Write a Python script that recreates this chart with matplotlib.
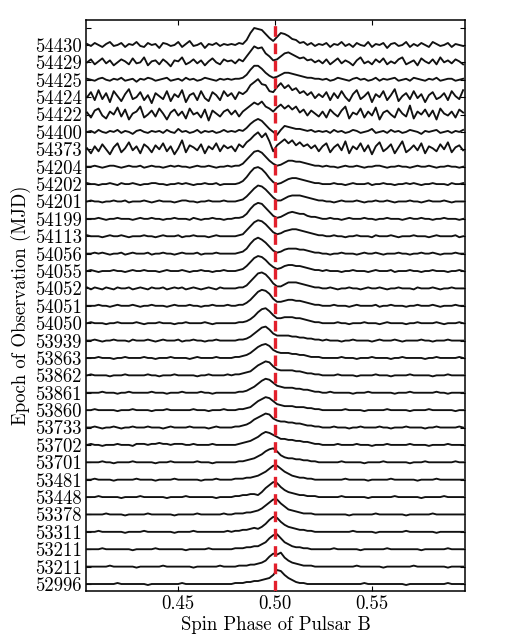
import numpy as np
import matplotlib
matplotlib.use("Agg")
import matplotlib.pyplot as plt

plt.rcParams['font.family'] = ['cmr10', 'DejaVu Serif']
plt.rcParams['mathtext.fontset'] = 'cm'
plt.rcParams['axes.unicode_minus'] = False
plt.rcParams['axes.formatter.use_mathtext'] = True

# Epoch labels, top to bottom
epochs = ["54430", "54429", "54425", "54424", "54422", "54400", "54373",
          "54204", "54202", "54201", "54199", "54113", "54056", "54055",
          "54052", "54051", "54050", "53939", "53863", "53862", "53861",
          "53860", "53733", "53702", "53701", "53481", "53448", "53378",
          "53311", "53211", "53211", "52996"]

# phase bins: first bin index out of 512 bins per rotation
first_bin = 206
bins_per_turn = 512

# Profiles (flux, arbitrary units), one per epoch, 100 phase bins each
p_54430 = [1,-1,2,0,-2,1,3,-1,0,2,-2,1,0,3,-1,-2,2,0,1,-3,2,1,-1,0,3,-2,1,4,-1,0,2,-3,1,0,2,-1,1,0,
           1,0,2,1,5,12,17,16,15,11,7,4,8,12,11,9,6,5,2,3,0,2,-1,1,0,
           2,-2,1,0,3,-1,1,-2,2,0,-1,3,-2,1,0,2,-3,1,2,-1,0,3,-2,1,-1,2,0,-2,3,1,-1,0,2,-2,1,0,-1]
p_54429 = [0,3,-2,1,4,-1,2,-3,0,3,1,-2,4,-1,0,5,-3,1,2,-2,3,0,-4,2,1,5,-2,0,3,-1,2,-3,1,4,0,-2,3,1,
           2,-1,3,1,6,11,16,14,15,9,6,2,3,6,9,10,8,6,4,5,2,3,0,2,-1,
           3,-2,1,4,-1,2,0,-3,2,5,-1,1,-2,3,0,4,-2,1,-1,3,5,-2,0,2,-3,4,1,-1,3,-2,5,0,2,-1,3,1,-2]
p_54425 = [1,0,-1,1,2,0,-1,1,0,2,-1,0,1,-2,1,0,2,1,-1,0,1,2,-1,0,1,-1,2,0,1,-1,0,2,1,0,-1,1,0,1,
           0,1,1,2,5,10,14,14,11,7,4,2,3,5,7,7,6,5,4,3,2,2,1,1,0,
           1,-1,0,2,1,0,-1,1,2,0,1,-1,0,2,-1,1,0,1,2,-1,0,1,-1,2,1,0,-1,1,0,2,-1,0,1,1,-1,0,1]
p_54424 = [0,5,-3,7,-2,4,-5,6,1,-4,3,8,-2,0,5,-3,2,-6,4,1,-2,6,-4,3,0,7,-5,2,4,-3,6,-1,-4,5,2,-3,6,1,
           4,-2,5,3,6,12,15,18,13,12,6,5,10,14,9,12,7,9,4,6,2,5,-1,3,0,
           5,-3,4,-1,6,0,-4,3,7,-2,1,5,-5,3,0,6,-3,2,8,-4,1,4,-2,6,-1,3,-5,2,5,-2,0,4,-3,6,1,-2,7]
p_54422 = [2,-3,4,6,-1,-4,3,0,7,-2,5,-5,1,3,8,-3,0,4,-2,6,1,-5,2,5,-1,3,-4,6,0,2,-3,5,-6,4,1,-2,3,5,
           0,4,-2,3,6,9,12,10,13,8,6,3,7,10,6,9,5,8,2,5,-1,4,1,-2,3,
           -3,5,1,-2,4,8,-4,2,0,6,-3,3,-1,7,-5,2,4,0,-3,6,1,-2,9,-4,3,0,5,-2,4,-5,6,1,-1,3,-3,5,2]
p_54400 = [0,1,-1,2,0,-1,1,0,2,-1,1,0,-2,1,2,0,-1,1,0,1,-1,2,0,-1,3,0,1,-1,0,2,-1,1,0,1,-1,0,2,0,
           1,0,2,1,4,8,11,13,11,7,3,0,-3,2,6,5,4,3,3,2,1,2,0,1,0,
           1,-1,2,0,1,-1,0,2,1,-1,0,1,3,-1,0,1,-1,2,0,1,-1,0,2,1,0,-2,1,0,1,2,-1,0,1,-1,1,0,2]
p_54373 = [1,-4,3,-2,5,0,-5,2,6,-3,1,7,-1,3,-4,5,2,-3,4,0,6,-2,3,-5,1,9,-3,4,2,-1,5,-4,3,0,6,-2,4,1,
           3,-2,5,2,7,10,14,17,12,16,8,-2,4,7,10,6,9,4,7,3,5,1,4,-2,3,
           6,-3,2,5,-1,8,-4,3,0,6,-2,4,-5,3,7,-2,1,5,-4,2,8,-3,0,4,-1,6,-4,3,1,-2,5,0,7,-3,2,4,-1]
p_54204 = [0,0,1,0,-1,0,1,1,0,-1,0,1,0,0,1,-1,0,1,0,0,-1,0,1,0,1,0,0,-1,0,1,0,0,1,0,-1,0,0,1,
           0,1,1,3,7,11,15,16,14,10,6,3,1,2,4,6,6,5,5,4,3,2,1,1,0,
           1,0,0,-1,0,1,0,0,1,0,-1,0,0,1,1,0,-1,0,0,1,0,0,-1,0,1,0,0,1,0,-1,0,0,1,0,0,-1,0]
p_54202 = [1,0,0,-1,0,0,1,0,-1,1,0,0,1,0,-1,0,0,1,1,0,0,-1,0,0,1,0,1,0,-1,0,0,1,0,0,1,-1,0,0,
           0,0,1,3,7,12,16,17,15,11,6,2,0,1,3,5,6,6,5,4,3,2,1,1,0,
           0,0,1,0,0,-1,0,1,0,0,0,1,-1,0,0,1,0,0,-1,0,0,1,0,1,0,-1,0,0,1,0,0,0,-1,1,0,0,1]
p_54201 = [0,1,0,0,-1,0,0,1,0,0,1,-1,0,0,0,1,0,-1,0,1,0,0,0,-1,0,1,1,0,0,-1,0,0,1,0,0,0,1,0,
           0,0,1,2,5,9,13,16,15,12,8,4,1,1,3,5,6,6,6,5,4,3,2,1,1,
           0,0,-1,0,1,0,0,0,1,0,-1,0,0,1,0,0,1,0,-1,0,0,0,1,0,0,-1,0,1,0,0,0,1,0,-1,0,0,0]
p_54199 = [0,0,0,1,0,-1,0,0,1,0,0,0,-1,0,1,0,0,1,0,0,-1,0,0,1,0,0,0,-1,1,0,-1,0,0,1,0,0,-1,0,
           0,1,1,2,5,10,14,16,15,11,7,3,1,2,4,6,7,6,5,5,3,2,2,1,0,
           0,1,0,0,-1,0,1,0,0,0,1,0,0,-1,0,0,1,0,0,0,-1,0,1,0,0,1,0,0,-1,0,0,1,0,0,0,-1,0]
p_54113 = [1,0,0,0,-1,0,1,0,0,1,0,-1,0,0,0,1,0,0,-1,0,1,0,0,0,1,-1,0,0,1,0,0,0,-1,0,1,0,0,0,
           0,0,1,2,6,10,14,16,15,12,8,4,2,3,5,6,7,7,6,5,4,3,2,1,1,
           0,0,1,0,0,-1,0,0,1,0,0,0,-1,1,0,0,0,1,0,-1,0,0,0,1,0,0,0,-1,0,1,0,0,0,0,1,-1,0]
p_54056 = [0,0,1,0,1,0,-1,0,0,1,-1,0,1,0,0,0,1,-1,0,0,1,0,0,-1,0,1,0,0,0,1,-1,0,0,0,1,0,0,0,
           0,0,1,2,5,10,14,16,14,11,7,3,1,2,4,5,5,5,4,4,3,2,1,1,0,
           0,-1,0,0,1,0,0,0,-1,0,1,0,0,1,0,-1,0,0,0,1,0,0,-1,0,0,1,0,0,1,0,-1,0,0,0,1,0,0]
p_54055 = [0,1,0,-1,0,0,0,1,0,0,-1,0,1,0,0,1,0,0,0,-1,0,1,0,0,0,1,0,-1,0,0,1,0,0,-1,0,0,1,0,
           0,0,1,2,5,9,13,15,14,11,7,4,2,3,5,6,6,5,5,4,3,2,1,1,0,
           1,0,0,0,-1,0,0,1,0,0,0,-1,0,1,0,0,0,1,-1,0,0,0,1,0,0,-1,0,0,1,0,0,0,-1,0,0,1,0]
p_54052 = [1,-1,1,0,-1,1,0,-1,1,0,0,1,-1,0,1,0,-1,1,0,0,1,-1,0,1,0,1,-1,0,1,0,-1,0,1,0,-1,1,0,0,
           0,0,1,1,3,7,11,15,16,14,10,5,2,2,4,6,6,6,5,4,3,2,1,1,0,
           0,1,0,-1,0,0,1,0,0,-1,0,1,0,0,1,0,-1,0,0,1,0,0,0,-1,1,0,0,0,1,0,-1,0,0,1,0,0,0]
p_54051 = [0,0,0,1,0,0,-1,0,1,0,0,0,1,0,-1,0,0,1,0,0,0,-1,0,1,0,0,0,1,0,0,-1,0,0,1,0,0,0,1,
           0,0,1,1,3,6,10,14,16,15,12,7,4,4,5,6,6,5,5,4,3,2,1,1,0,
           0,0,1,0,0,0,-1,0,1,0,0,0,0,1,-1,0,0,1,0,0,0,-1,0,0,1,0,0,0,1,0,-1,0,0,0,1,0,0]
p_54050 = [0,1,0,0,0,-1,0,0,1,0,0,0,0,1,0,-1,0,0,0,1,0,0,0,-1,0,0,1,0,0,0,0,1,0,-1,0,0,0,0,
           0,0,1,1,2,4,7,11,14,15,12,8,5,5,6,6,6,5,5,4,3,2,1,1,0,
           0,0,0,1,0,0,-1,0,0,0,1,0,0,0,-1,0,1,0,0,0,0,-1,0,0,1,0,0,0,0,1,0,-1,0,0,0,1,0]
p_53939 = [0,0,1,0,-1,0,0,1,0,0,0,-1,1,0,0,0,1,0,-1,0,1,0,0,0,1,-1,0,0,1,0,0,-1,0,0,1,0,0,0,
           0,0,1,1,2,4,7,10,13,14,11,7,5,5,5,5,4,4,3,3,2,2,1,1,0,
           1,0,0,0,-1,0,0,1,0,0,0,0,-1,0,1,0,0,0,1,0,-1,0,0,0,0,1,0,0,-1,0,0,0,1,0,0,0,0]
p_53863 = [0,0,0,1,0,0,0,-1,0,0,1,0,0,0,0,1,0,0,-1,0,0,0,1,0,0,0,0,-1,0,1,0,0,0,0,1,0,0,0,
           0,1,1,2,3,5,8,11,13,14,12,8,6,5,5,5,4,4,3,3,2,1,1,1,0,
           0,0,0,0,1,0,0,0,-1,0,0,0,1,0,0,0,0,-1,0,0,1,0,0,0,0,0,-1,0,0,1,0,0,0,0,0,1,0]
p_53862 = [0,1,0,0,0,0,-1,0,0,0,1,0,0,0,0,0,1,0,0,-1,0,0,0,1,0,0,0,0,0,-1,0,0,1,0,0,0,0,1,
           0,1,1,2,3,4,7,10,12,14,13,9,6,5,5,5,5,4,4,3,2,2,1,1,0,
           0,0,0,1,0,0,0,0,-1,0,0,0,0,1,0,0,0,-1,0,0,0,0,1,0,0,0,0,0,-1,0,0,0,1,0,0,0,0]
p_53861 = [0,0,0,0,1,0,0,0,-1,0,0,1,0,0,0,0,0,1,0,0,0,-1,0,0,0,1,0,0,0,0,1,0,0,-1,0,0,0,0,
           0,0,1,1,2,4,6,9,12,14,13,10,7,6,5,5,5,4,4,3,3,2,1,1,0,
           0,1,0,0,0,0,0,-1,0,0,0,1,0,0,0,0,0,0,-1,0,0,0,1,0,0,0,0,0,0,1,0,0,-1,0,0,0,0]
p_53860 = [0,0,1,0,0,0,0,0,-1,0,0,0,1,0,0,0,0,-1,0,0,0,1,0,0,0,0,0,0,1,0,0,0,-1,0,0,0,1,0,
           0,0,1,1,2,3,6,9,11,13,12,9,6,5,4,4,4,3,3,3,2,2,1,1,0,
           0,0,0,0,0,1,0,0,0,0,-1,0,0,0,0,0,1,0,0,0,0,0,-1,0,0,0,0,1,0,0,0,0,0,0,-1,0,0]
p_53733 = [0,0,1,0,-1,0,0,1,0,-1,0,0,1,0,0,0,1,0,0,0,-1,0,1,0,0,0,0,1,0,0,0,0,-1,0,1,0,0,0,
           0,1,1,2,3,5,8,10,12,14,13,9,7,6,6,5,5,4,4,3,2,2,1,1,0,
           0,0,1,0,0,0,-1,0,0,1,0,0,0,0,1,0,0,-1,0,0,0,1,0,0,0,0,-1,0,0,1,0,0,0,0,0,1,0]
p_53702 = [0,1,0,0,-1,0,0,0,1,0,0,0,-1,1,1,1,0,1,1,2,1,1,0,1,1,1,0,0,1,0,0,0,0,1,0,0,0,0,
           0,0,1,2,3,4,6,8,11,13,12,10,8,6,6,5,5,4,4,3,3,2,1,1,0,
           0,0,0,1,0,0,0,0,1,0,0,0,-1,0,0,0,1,0,0,0,0,0,1,0,0,0,0,-1,0,0,0,0,1,0,0,0,0]
p_53701 = [0,0,0,0,1,0,0,-1,0,0,0,0,1,0,0,0,0,0,-1,0,0,0,1,0,0,0,0,0,0,1,0,0,0,-1,0,0,0,0,
           0,0,1,1,2,3,4,6,8,11,13,14,11,7,5,4,4,3,3,2,2,1,1,0,0,
           0,0,0,0,1,0,0,0,0,0,-1,0,0,0,0,1,0,0,0,0,0,0,-1,0,0,0,1,0,0,0,0,0,0,0,1,0,0]
p_53481 = [0,0,1,0,0,0,0,-1,0,0,0,0,0,1,0,0,0,0,-1,0,0,0,0,1,0,0,0,0,0,0,-1,0,0,0,1,0,0,0,
           0,1,1,1,2,2,3,4,6,8,11,14,14,11,8,6,4,3,2,2,1,1,0,0,0,
           0,0,0,0,0,1,0,0,0,0,0,-1,0,0,0,0,0,1,0,0,0,0,0,0,-1,0,0,0,0,1,0,0,0,0,0,0,0]
p_53448 = [0,0,0,1,0,0,0,0,0,-1,0,0,0,0,1,0,0,0,0,0,0,-1,0,0,0,0,1,0,0,0,0,0,0,0,-1,0,0,0,
           0,1,1,2,2,3,3,2,5,9,12,15,14,10,7,5,4,3,2,2,1,1,1,0,0,
           0,0,0,0,1,0,0,0,0,0,0,-1,0,0,0,0,0,0,1,0,0,0,0,0,0,-1,0,0,0,0,0,1,0,0,0,0,0]
p_53378 = [0,0,0,0,0,1,0,0,0,0,-1,0,0,0,0,0,1,0,0,0,0,0,0,-1,0,0,0,0,0,1,0,0,0,0,0,0,1,0,
           0,1,1,1,2,2,3,4,6,9,12,15,15,11,8,5,4,3,2,1,1,1,0,0,0,
           0,0,0,0,0,0,-1,0,0,0,0,0,0,1,0,0,0,0,0,0,0,-1,0,0,0,0,0,0,1,0,0,0,0,0,0,0,0]
p_53311 = [0,0,0,1,0,0,0,0,0,0,-1,0,0,0,0,1,0,0,0,0,0,0,0,-1,0,0,0,0,1,0,0,0,0,0,0,0,0,1,
           0,1,1,2,2,3,4,3,5,8,12,15,14,10,7,5,4,3,2,2,1,1,0,0,0,
           0,0,0,0,0,0,0,1,0,0,0,0,0,-1,0,0,0,0,0,0,0,1,0,0,0,0,0,0,0,-1,0,0,0,0,0,0,0]
p_53211a = [0,0,0,0,1,0,0,0,0,0,0,0,-1,0,0,0,0,0,1,0,0,0,0,0,0,0,-1,0,0,0,0,0,1,0,0,0,0,0,
            0,1,1,1,2,2,3,3,5,7,11,14,15,11,7,5,3,2,2,1,1,0,0,0,0,
            0,0,1,0,0,0,0,0,0,-1,0,0,0,0,0,0,1,0,0,0,0,0,0,0,0,-1,0,0,0,0,0,0,1,0,0,0,0]
p_53211b = [0,0,0,0,0,0,1,0,0,0,0,0,0,-1,0,0,0,0,0,0,1,0,0,0,0,0,0,0,-1,0,0,0,0,0,0,1,0,0,
            0,0,1,1,1,2,2,3,4,6,10,13,12,14,9,6,4,3,2,1,1,1,0,0,0,
            0,0,0,0,0,0,0,0,1,0,0,0,0,0,0,-1,0,0,0,0,0,0,0,1,0,0,0,0,0,0,0,0,-1,0,0,0,0]
p_52996 = [0,0,0,0,0,0,0,0,1,0,0,0,0,0,0,0,-1,0,0,0,0,0,0,0,0,1,0,0,0,0,0,0,0,0,0,0,0,0,
           0,1,1,1,2,2,3,3,4,5,6,9,14,13,9,6,4,2,1,1,0,0,0,0,0,
           0,0,0,0,0,0,0,0,0,0,1,0,0,0,0,0,0,0,0,0,0,-1,0,0,0,0,0,0,0,0,0,0,1,0,0,0,0]

profiles = [p_54430, p_54429, p_54425, p_54424, p_54422, p_54400, p_54373,
            p_54204, p_54202, p_54201, p_54199, p_54113, p_54056, p_54055,
            p_54052, p_54051, p_54050, p_53939, p_53863, p_53862, p_53861,
            p_53860, p_53733, p_53702, p_53701, p_53481, p_53448, p_53378,
            p_53311, p_53211a, p_53211b, p_52996]

bad = [(epochs[i], len(p)) for i, p in enumerate(profiles) if len(p) != 100]
if bad:
    raise SystemExit("bad lengths: %r" % bad)

ref_phase = 0.50
row_step = 17.4

fig = plt.figure(figsize=(5.12, 6.44), dpi=100)
ax = fig.add_axes([86/512, 53/644, 379/512, 571/644])

n = len(profiles)
for r, prof in enumerate(profiles):
    vals = np.asarray(prof, dtype=float)
    phase = (first_bin + np.arange(len(vals)) + 0.5) / bins_per_turn
    base = (n - 1 - r) * row_step
    ax.plot(phase, base + vals, color='#111111', lw=1.35, solid_joinstyle='round', zorder=2)

ax.axvline(ref_phase, color='#e2202c', lw=2.4, ls=(0, (3.2, 2.0)), zorder=3)

ax.set_xlim(206.2/512, 306.0/512)
ax.set_ylim(-7, (n - 1) * row_step + 25)
ax.set_xticks([0.45, 0.50, 0.55])
ax.set_xticklabels(["0.45", "0.50", "0.55"])
ax.set_yticks([k * row_step for k in range(n + 1)])
ax.set_yticklabels(list(reversed(epochs)) + [""])
ax.tick_params(direction='in', top=True, right=True, length=3.5, width=0.8,
               labelsize=13.5, pad=3)
for s in ax.spines.values():
    s.set_linewidth(1.1)
ax.set_xlabel("Spin Phase of Pulsar B", fontsize=13.5, labelpad=2)
ax.set_ylabel("Epoch of Observation (MJD)", fontsize=13.5, labelpad=3)

fig.savefig("out.png", dpi=100)
